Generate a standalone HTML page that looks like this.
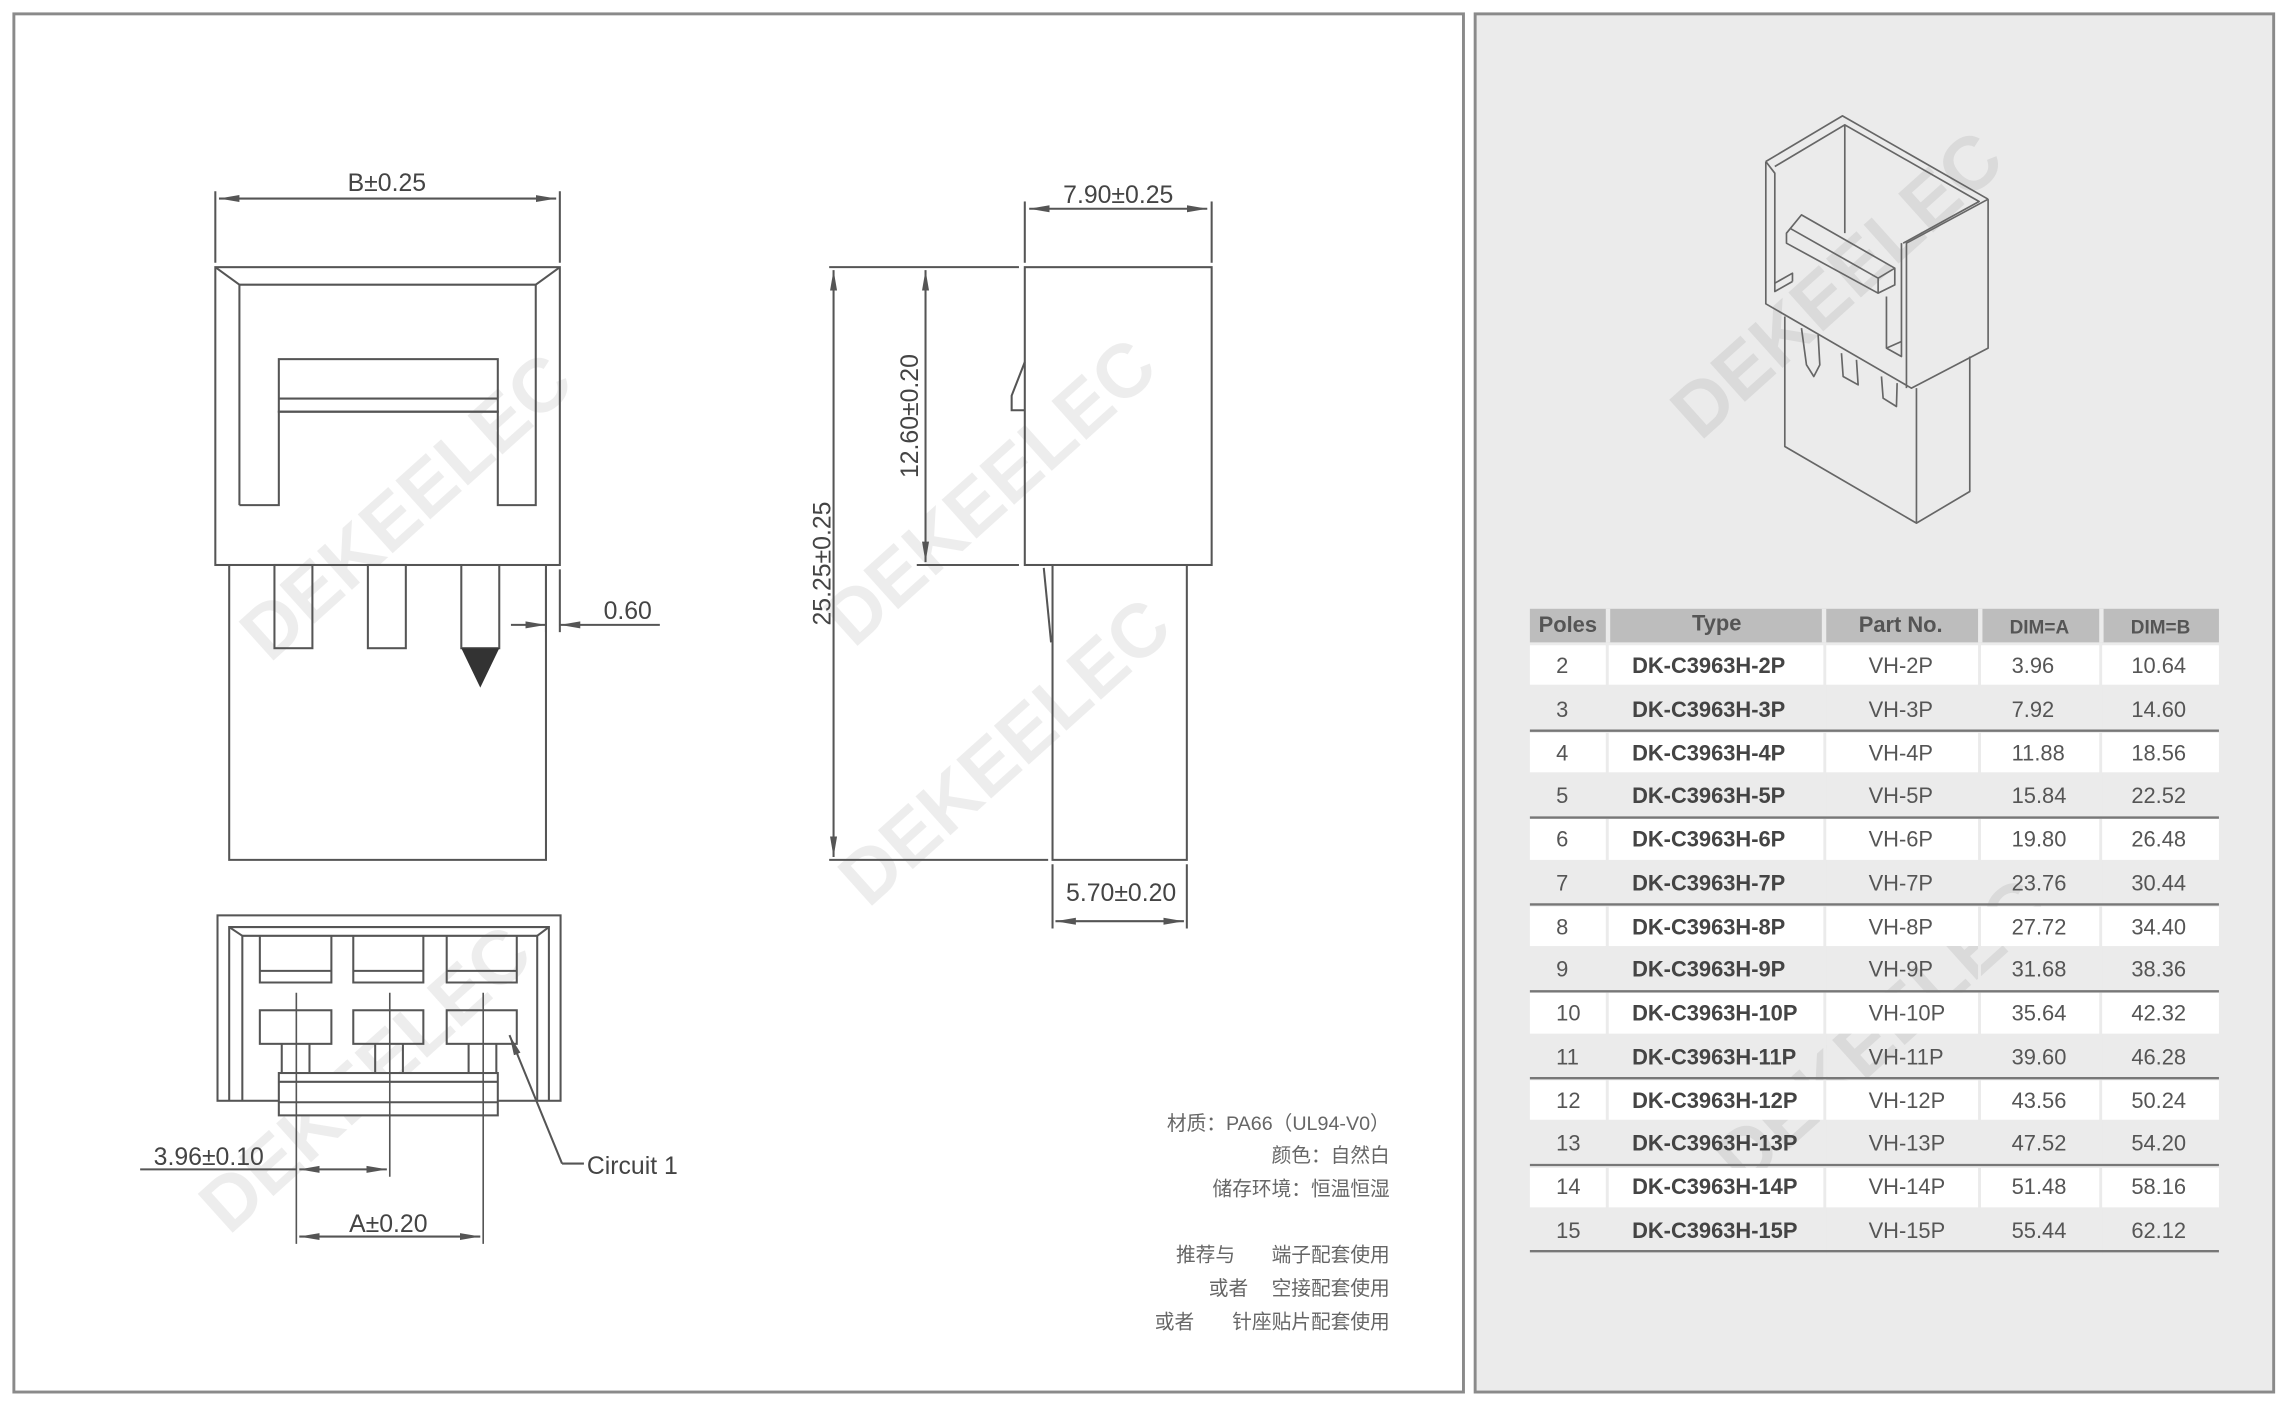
<!DOCTYPE html>
<html><head><meta charset="utf-8"><style>
html,body{margin:0;padding:0;background:#fff;}
svg{display:block;}
text{font-family:"Liberation Sans","Noto Sans CJK SC",sans-serif;}
</style></head><body>
<svg width="2289" height="1404" viewBox="0 0 1568 961.7" preserveAspectRatio="none" xmlns="http://www.w3.org/2000/svg">
<defs>
<marker id="a" viewBox="0 0 14 6" refX="14" refY="3" markerWidth="14" markerHeight="6" markerUnits="userSpaceOnUse" orient="auto-start-reverse"><path d="M0,0.6 L14,3 L0,5.4 Z" fill="#555"/></marker>
</defs>
<rect x="0" y="0" width="1568" height="962" fill="#fff"/>
<!-- panels -->
<rect x="9.5" y="9.5" width="993" height="944" fill="#fff" stroke="#8a8a8a" stroke-width="2"/>
<rect x="1010.5" y="9.5" width="547" height="944" fill="#ebebeb" stroke="#8a8a8a" stroke-width="2"/>

<!-- watermarks -->
<g fill="#000" fill-opacity="0.07" font-weight="bold" font-size="52" text-anchor="middle">
<text transform="translate(290,360) rotate(-42)">DEKEELEC</text>
<text transform="translate(690,350) rotate(-42)">DEKEELEC</text>
<text transform="translate(700,528) rotate(-42)">DEKEELEC</text>
<text transform="translate(262,752) rotate(-42)">DEKEELEC</text>
<text transform="translate(1270,208) rotate(-42)">DEKEELEC</text>
<text transform="translate(1300,720) rotate(-42)">DEKEELEC</text>
</g>

<g fill="none" stroke="#555" stroke-width="1.4">
<!-- front view -->
<rect x="147.5" y="183" width="236" height="204"/>
<polyline points="164,346 164,195 367,195 367,346 341,346 341,282 191,282 191,346 164,346"/>
<line x1="147.5" y1="183" x2="164" y2="195"/><line x1="383.5" y1="183" x2="367" y2="195"/>
<rect x="191" y="246" width="150" height="36"/>
<line x1="191" y1="273" x2="341" y2="273"/>
<polyline points="157,387 157,589 374,589 374,387"/>
<rect x="188" y="387" width="26" height="57"/>
<rect x="252" y="387" width="26" height="57"/>
<polyline points="316,387 316,444 342,444 342,387"/>
<!-- B dim -->
<line x1="147.5" y1="131" x2="147.5" y2="180"/><line x1="383.5" y1="131" x2="383.5" y2="180"/>
<line x1="150" y1="136" x2="381" y2="136" marker-start="url(#a)" marker-end="url(#a)"/>
<!-- 0.60 -->
<line x1="374" y1="390" x2="374" y2="433"/><line x1="383.5" y1="390" x2="383.5" y2="433"/>
<line x1="350" y1="428" x2="374" y2="428" marker-end="url(#a)"/>
<line x1="452" y1="428" x2="383.5" y2="428" marker-end="url(#a)"/>

<!-- side view -->
<rect x="702" y="183" width="128" height="204"/>
<polyline points="702,248 693,271 693,281 702,281"/>
<polyline points="721,387 721,589 813,589 813,387"/>
<line x1="715" y1="389" x2="720" y2="440"/>
<line x1="702" y1="138" x2="702" y2="180"/><line x1="830" y1="138" x2="830" y2="180"/>
<line x1="705" y1="143" x2="827" y2="143" marker-start="url(#a)" marker-end="url(#a)"/>
<line x1="568" y1="183" x2="698" y2="183"/>
<line x1="628" y1="387" x2="698" y2="387"/>
<line x1="568" y1="589" x2="718" y2="589"/>
<line x1="634" y1="185" x2="634" y2="385" marker-start="url(#a)" marker-end="url(#a)"/>
<line x1="571" y1="185" x2="571" y2="587" marker-start="url(#a)" marker-end="url(#a)"/>
<line x1="721" y1="592" x2="721" y2="636"/><line x1="813" y1="592" x2="813" y2="636"/>
<line x1="723" y1="631" x2="811" y2="631" marker-start="url(#a)" marker-end="url(#a)"/>

<!-- bottom view -->
<rect x="149" y="627" width="235" height="127"/>
<polyline points="157,754 157,635 376,635 376,754"/>
<polyline points="166,754 166,641 368,641 368,754"/>
<line x1="157" y1="635" x2="166" y2="641"/><line x1="376" y1="635" x2="368" y2="641"/>
<polyline points="178,641 178,673 227,673 227,641"/><line x1="178" y1="665" x2="227" y2="665"/>
<polyline points="242,641 242,673 290,673 290,641"/><line x1="242" y1="665" x2="290" y2="665"/>
<polyline points="306,641 306,673 354,673 354,641"/><line x1="306" y1="665" x2="354" y2="665"/>
<rect x="178" y="692" width="49" height="23"/>
<rect x="242" y="692" width="48" height="23"/>
<rect x="306" y="692" width="48" height="23"/>
<polyline points="193,715 193,735"/><polyline points="212,715 212,735"/>
<polyline points="257,715 257,735"/><polyline points="276,715 276,735"/>
<polyline points="321,715 321,735"/><polyline points="340,715 340,735"/>
<rect x="191" y="735" width="150" height="29" fill="#fff"/>
<line x1="191" y1="741" x2="341" y2="741"/><line x1="191" y1="755" x2="341" y2="755"/>
<line x1="203" y1="680" x2="203" y2="852" stroke-width="1.1"/>
<line x1="267" y1="680" x2="267" y2="806" stroke-width="1.1"/>
<line x1="331" y1="680" x2="331" y2="852" stroke-width="1.1"/>
<line x1="96" y1="801" x2="203" y2="801"/>
<line x1="205" y1="801" x2="265" y2="801" marker-start="url(#a)" marker-end="url(#a)"/>
<line x1="205" y1="847" x2="329" y2="847" marker-start="url(#a)" marker-end="url(#a)"/>
<line x1="385" y1="797" x2="349" y2="709" marker-end="url(#a)"/>
<line x1="385" y1="797" x2="400" y2="797"/>
</g>
<polygon points="316,444 342,444 329,471" fill="#333"/>

<!-- dimension text -->
<g fill="#444" font-size="17">
<text x="265" y="131" text-anchor="middle">B±0.25</text>
<text x="430" y="424" text-anchor="middle">0.60</text>
<text x="766" y="139" text-anchor="middle">7.90±0.25</text>
<text transform="translate(629,285) rotate(-90)" text-anchor="middle">12.60±0.20</text>
<text transform="translate(569,386) rotate(-90)" text-anchor="middle">25.25±0.25</text>
<text x="768" y="617" text-anchor="middle">5.70±0.20</text>
<text x="143" y="798" text-anchor="middle">3.96±0.10</text>
<text x="266" y="844" text-anchor="middle">A±0.20</text>
<text x="402" y="804">Circuit 1</text>
</g>

<!-- notes -->
<g fill="#666" font-size="13.5" text-anchor="end">
<text x="952" y="774">材质：PA66（UL94-V0）</text>
<text x="952" y="796">颜色：自然白</text>
<text x="952" y="819">储存环境：恒温恒湿</text>
<text x="846" y="864">推荐与</text><text x="952" y="864">端子配套使用</text>
<text x="855" y="887">或者</text><text x="952" y="887">空接配套使用</text>
<text x="818" y="910">或者</text><text x="952" y="910">针座贴片配套使用</text>
</g>

<!-- 3D view -->
<g transform="translate(1191.8,68.4) scale(0.2283)" fill="none" stroke="#666" stroke-width="5" stroke-linejoin="round">
<polyline points="78,185 308,48 745,298"/>
<polyline points="78,185 78,612 515,865 745,745 745,298"/>
<polyline points="745,298 500,430 500,865"/>
<polyline points="105,200 315,75 718,305 490,430"/>
<line x1="315" y1="75" x2="315" y2="400"/>
<polyline points="78,185 105,220 105,575 158,545"/>
<polyline points="158,545 158,520 105,550"/>
<polygon points="140,400 185,345 465,505 465,555 415,580 140,430"/>
<polyline points="150,385 415,535 415,580"/>
<line x1="415" y1="535" x2="465" y2="505"/>
<polyline points="440,590 440,745 485,770 485,430"/>
<line x1="440" y1="745" x2="485" y2="725"/>
<polyline points="135,650 135,1040 530,1270 690,1175 690,770"/>
<line x1="530" y1="865" x2="530" y2="1270"/>
<polyline points="185,685 200,795 222,830 240,795 235,705"/>
<polyline points="305,760 310,830 355,855 350,780"/>
<polyline points="425,830 430,895 470,920 472,850"/>
</g>

<!-- table -->
<g>
<rect x="1048" y="417" width="472" height="23" fill="#bdbdbd"/>
<g fill="#ebebeb">
<rect x="1100" y="417" width="3" height="23"/><rect x="1248" y="417" width="3" height="23"/><rect x="1355" y="417" width="3" height="23"/><rect x="1438" y="417" width="3" height="23"/>
</g>
<g fill="#fff">
<rect x="1048" y="442" width="472" height="27"/>
<rect x="1048" y="502" width="472" height="27"/>
<rect x="1048" y="561" width="472" height="28"/>
<rect x="1048" y="621" width="472" height="27"/>
<rect x="1048" y="680" width="472" height="28"/>
<rect x="1048" y="740" width="472" height="27"/>
<rect x="1048" y="800" width="472" height="27"/>
</g>
<g fill="#ebebeb">
<rect x="1100" y="440" width="2" height="420"/><rect x="1249" y="440" width="2" height="420"/><rect x="1355" y="440" width="2" height="420"/><rect x="1438" y="440" width="2" height="420"/>
</g>
<g stroke="#777" stroke-width="1.6">
<line x1="1048" y1="500.5" x2="1520" y2="500.5"/>
<line x1="1048" y1="560" x2="1520" y2="560"/>
<line x1="1048" y1="619.5" x2="1520" y2="619.5"/>
<line x1="1048" y1="679" x2="1520" y2="679"/>
<line x1="1048" y1="738.5" x2="1520" y2="738.5"/>
<line x1="1048" y1="798" x2="1520" y2="798"/>
<line x1="1048" y1="857" x2="1520" y2="857"/>
</g>
<g font-size="15" fill="#555" font-weight="bold">
<text x="1074" y="433" text-anchor="middle">Poles</text>
<text x="1176" y="432" text-anchor="middle">Type</text>
<text x="1302" y="433" text-anchor="middle">Part No.</text>
<text x="1397" y="434" text-anchor="middle" font-size="13">DIM=A</text>
<text x="1480" y="434" text-anchor="middle" font-size="13">DIM=B</text>
</g>
<g font-size="15" fill="#555">
<g text-anchor="start">
<text x="1066" y="461">2</text><text x="1066" y="491">3</text><text x="1066" y="521">4</text><text x="1066" y="550">5</text><text x="1066" y="580">6</text><text x="1066" y="610">7</text><text x="1066" y="640">8</text><text x="1066" y="669">9</text><text x="1066" y="699">10</text><text x="1066" y="729">11</text><text x="1066" y="759">12</text><text x="1066" y="788">13</text><text x="1066" y="818">14</text><text x="1066" y="848">15</text>
</g>
<g font-weight="bold" fill="#444">
<text x="1118" y="461">DK-C3963H-2P</text><text x="1118" y="491">DK-C3963H-3P</text><text x="1118" y="521">DK-C3963H-4P</text><text x="1118" y="550">DK-C3963H-5P</text><text x="1118" y="580">DK-C3963H-6P</text><text x="1118" y="610">DK-C3963H-7P</text><text x="1118" y="640">DK-C3963H-8P</text><text x="1118" y="669">DK-C3963H-9P</text><text x="1118" y="699">DK-C3963H-10P</text><text x="1118" y="729">DK-C3963H-11P</text><text x="1118" y="759">DK-C3963H-12P</text><text x="1118" y="788">DK-C3963H-13P</text><text x="1118" y="818">DK-C3963H-14P</text><text x="1118" y="848">DK-C3963H-15P</text>
</g>
<g>
<text x="1280" y="461">VH-2P</text><text x="1280" y="491">VH-3P</text><text x="1280" y="521">VH-4P</text><text x="1280" y="550">VH-5P</text><text x="1280" y="580">VH-6P</text><text x="1280" y="610">VH-7P</text><text x="1280" y="640">VH-8P</text><text x="1280" y="669">VH-9P</text><text x="1280" y="699">VH-10P</text><text x="1280" y="729">VH-11P</text><text x="1280" y="759">VH-12P</text><text x="1280" y="788">VH-13P</text><text x="1280" y="818">VH-14P</text><text x="1280" y="848">VH-15P</text>
</g>
<g>
<text x="1378" y="461">3.96</text><text x="1378" y="491">7.92</text><text x="1378" y="521">11.88</text><text x="1378" y="550">15.84</text><text x="1378" y="580">19.80</text><text x="1378" y="610">23.76</text><text x="1378" y="640">27.72</text><text x="1378" y="669">31.68</text><text x="1378" y="699">35.64</text><text x="1378" y="729">39.60</text><text x="1378" y="759">43.56</text><text x="1378" y="788">47.52</text><text x="1378" y="818">51.48</text><text x="1378" y="848">55.44</text>
</g>
<g>
<text x="1460" y="461">10.64</text><text x="1460" y="491">14.60</text><text x="1460" y="521">18.56</text><text x="1460" y="550">22.52</text><text x="1460" y="580">26.48</text><text x="1460" y="610">30.44</text><text x="1460" y="640">34.40</text><text x="1460" y="669">38.36</text><text x="1460" y="699">42.32</text><text x="1460" y="729">46.28</text><text x="1460" y="759">50.24</text><text x="1460" y="788">54.20</text><text x="1460" y="818">58.16</text><text x="1460" y="848">62.12</text>
</g>
</g>
</g>
</svg>
</body></html>
